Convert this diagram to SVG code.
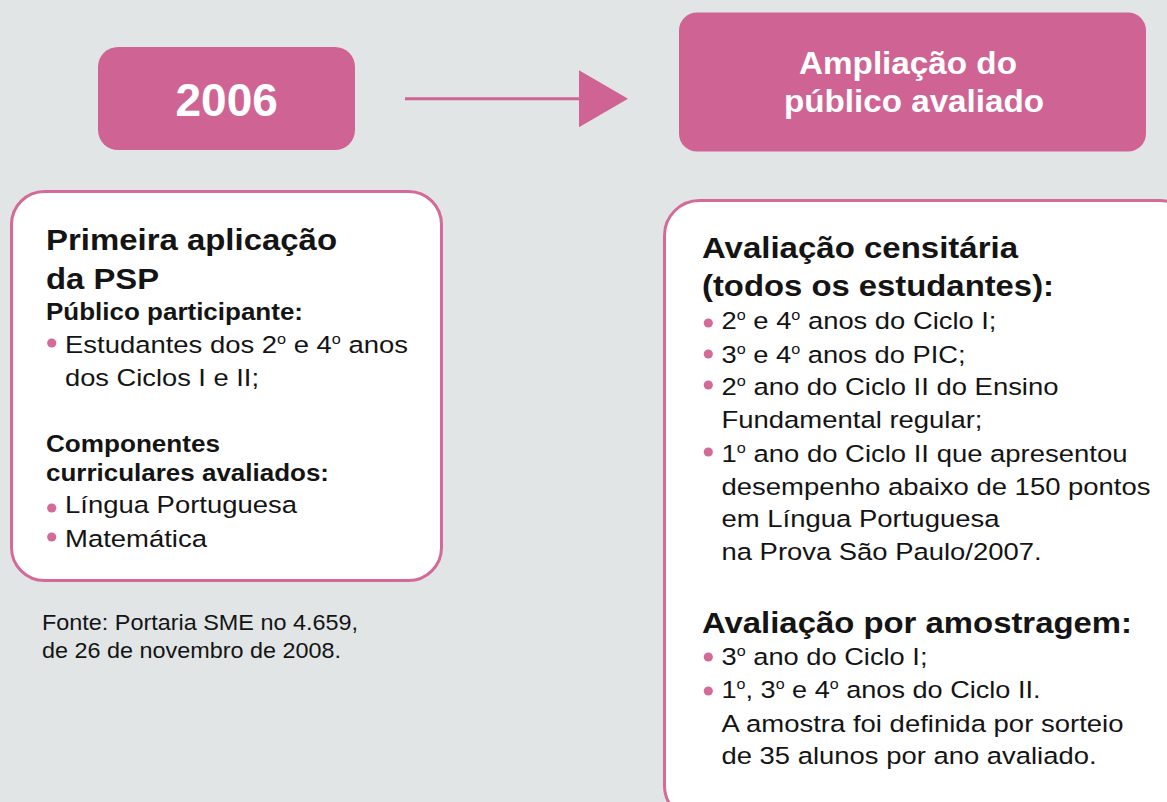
<svg xmlns="http://www.w3.org/2000/svg" width="1167" height="802" viewBox="0 0 1167 802">
<defs>
<style>
text{font-family:"Liberation Sans",Arial,sans-serif;fill:#141414}
.h1{font-size:30px;font-weight:bold}
.h2{font-size:23px;font-weight:bold}
.b{font-size:24.5px}
.f{font-size:22px}
.w{fill:#ffffff;font-weight:bold}
.sup{font-size:14.5px}
.fillbox{fill:#cf6494}
.card{fill:#ffffff;stroke:#d36a9a;stroke-width:3}
.dot{fill:#d36a9a}
.conn{stroke:#cf6494;stroke-width:3;fill:none}
</style>
<marker id="tri" viewBox="0 0 49 57" refX="0" refY="28.5" markerWidth="49" markerHeight="57" markerUnits="userSpaceOnUse" orient="auto">
<path d="M0,0 L49,28.5 L0,57 Z" fill="#cf6494"/>
</marker>
</defs>
<rect width="1167" height="802" fill="#e1e5e6"/>

<g id="node-2006">
<rect class="fillbox" x="98" y="47" width="257" height="103" rx="20"/>
<text class="w" x="226.7" y="116" font-size="46" text-anchor="middle">2006</text>
</g>

<g id="node-ampliacao">
<rect class="fillbox" x="679" y="12.5" width="467" height="139" rx="18"/>
<text class="w" x="799" y="74" font-size="31" textLength="218" lengthAdjust="spacingAndGlyphs">Ampliação do</text>
<text class="w" x="784" y="112" font-size="31" textLength="260" lengthAdjust="spacingAndGlyphs">público avaliado</text>
</g>

<g id="connectors">
<line class="conn" x1="405" y1="98.7" x2="579" y2="98.7" marker-end="url(#tri)"/>
</g>

<g id="node-primeira">
<rect class="card" x="11.5" y="191.5" width="430" height="389" rx="33"/>
<text class="h1" x="46" y="250" textLength="291" lengthAdjust="spacingAndGlyphs">Primeira aplicação</text>
<text class="h1" x="46" y="289" textLength="113" lengthAdjust="spacingAndGlyphs">da PSP</text>
<text class="h2" x="46" y="320" textLength="257" lengthAdjust="spacingAndGlyphs">Público participante:</text>
<circle class="dot" cx="51.7" cy="343" r="4.6"/>
<text class="b" x="65" y="353" textLength="343" lengthAdjust="spacingAndGlyphs">Estudantes dos 2<tspan class="sup" dy="-9.5">o</tspan><tspan dy="9.5"> e 4</tspan><tspan class="sup" dy="-9.5">o</tspan><tspan dy="9.5"> anos</tspan></text>
<text class="b" x="65" y="386" textLength="194" lengthAdjust="spacingAndGlyphs">dos Ciclos I e II;</text>
<text class="h2" x="46" y="451.5" textLength="174" lengthAdjust="spacingAndGlyphs">Componentes</text>
<text class="h2" x="46" y="481" textLength="283" lengthAdjust="spacingAndGlyphs">curriculares avaliados:</text>
<circle class="dot" cx="51.7" cy="508" r="4.6"/>
<text class="b" x="65" y="513" textLength="232" lengthAdjust="spacingAndGlyphs">Língua Portuguesa</text>
<circle class="dot" cx="51.7" cy="537" r="4.6"/>
<text class="b" x="65" y="547" textLength="142" lengthAdjust="spacingAndGlyphs">Matemática</text>
</g>

<g id="fonte">
<text class="f" x="42" y="630" textLength="316" lengthAdjust="spacingAndGlyphs">Fonte: Portaria SME no 4.659,</text>
<text class="f" x="42" y="658" textLength="299" lengthAdjust="spacingAndGlyphs">de 26 de novembro de 2008.</text>
</g>

<g id="node-avaliacao">
<rect class="card" x="664.5" y="200.5" width="530" height="620" rx="35"/>
<text class="h1" x="702" y="258" textLength="316" lengthAdjust="spacingAndGlyphs">Avaliação censitária</text>
<text class="h1" x="702" y="296" textLength="352" lengthAdjust="spacingAndGlyphs">(todos os estudantes):</text>
<circle class="dot" cx="708.3" cy="323" r="4.6"/>
<text class="b" x="721.5" y="329" textLength="275" lengthAdjust="spacingAndGlyphs">2<tspan class="sup" dy="-9.5">o</tspan><tspan dy="9.5"> e 4</tspan><tspan class="sup" dy="-9.5">o</tspan><tspan dy="9.5"> anos do Ciclo I;</tspan></text>
<circle class="dot" cx="708.3" cy="354" r="4.6"/>
<text class="b" x="721.5" y="363" textLength="244" lengthAdjust="spacingAndGlyphs">3<tspan class="sup" dy="-9.5">o</tspan><tspan dy="9.5"> e 4</tspan><tspan class="sup" dy="-9.5">o</tspan><tspan dy="9.5"> anos do PIC;</tspan></text>
<circle class="dot" cx="708.3" cy="385" r="4.6"/>
<text class="b" x="721.5" y="395" textLength="337" lengthAdjust="spacingAndGlyphs">2<tspan class="sup" dy="-9.5">o</tspan><tspan dy="9.5"> ano do Ciclo II do Ensino</tspan></text>
<text class="b" x="721.5" y="428" textLength="261" lengthAdjust="spacingAndGlyphs">Fundamental regular;</text>
<circle class="dot" cx="708.3" cy="452" r="4.6"/>
<text class="b" x="721.5" y="462" textLength="406" lengthAdjust="spacingAndGlyphs">1<tspan class="sup" dy="-9.5">o</tspan><tspan dy="9.5"> ano do Ciclo II que apresentou</tspan></text>
<text class="b" x="721.5" y="495" textLength="429" lengthAdjust="spacingAndGlyphs">desempenho abaixo de 150 pontos</text>
<text class="b" x="721.5" y="527" textLength="278" lengthAdjust="spacingAndGlyphs">em Língua Portuguesa</text>
<text class="b" x="721.5" y="560" textLength="320" lengthAdjust="spacingAndGlyphs">na Prova São Paulo/2007.</text>
<text class="h1" x="702" y="633" textLength="430" lengthAdjust="spacingAndGlyphs">Avaliação por amostragem:</text>
<circle class="dot" cx="708.3" cy="657" r="4.6"/>
<text class="b" x="721.5" y="665" textLength="206" lengthAdjust="spacingAndGlyphs">3<tspan class="sup" dy="-9.5">o</tspan><tspan dy="9.5"> ano do Ciclo I;</tspan></text>
<circle class="dot" cx="708.3" cy="691" r="4.6"/>
<text class="b" x="721.5" y="698" textLength="319" lengthAdjust="spacingAndGlyphs">1<tspan class="sup" dy="-9.5">o</tspan><tspan dy="9.5">, 3</tspan><tspan class="sup" dy="-9.5">o</tspan><tspan dy="9.5"> e 4</tspan><tspan class="sup" dy="-9.5">o</tspan><tspan dy="9.5"> anos do Ciclo II.</tspan></text>
<text class="b" x="721.5" y="732" textLength="402" lengthAdjust="spacingAndGlyphs">A amostra foi definida por sorteio</text>
<text class="b" x="721.5" y="764" textLength="375" lengthAdjust="spacingAndGlyphs">de 35 alunos por ano avaliado.</text>
</g>
</svg>
